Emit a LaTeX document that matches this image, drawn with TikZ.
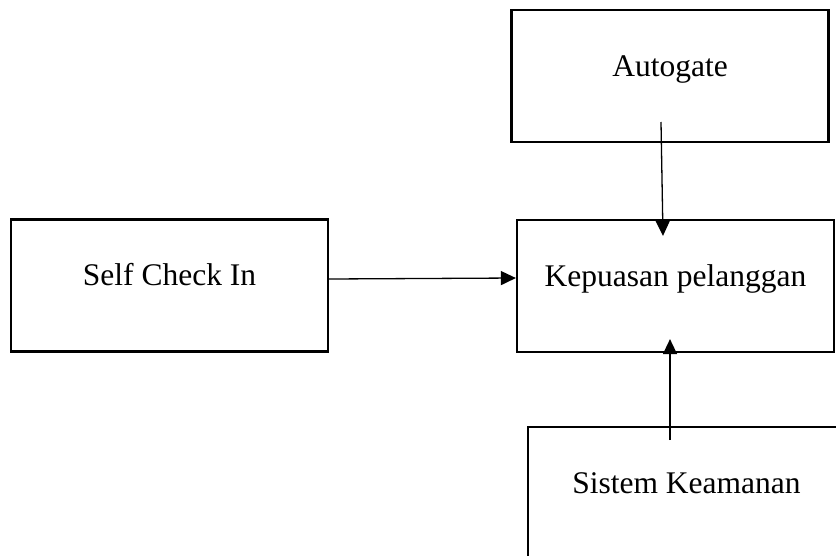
\documentclass[tikz,border=0pt]{standalone}
\usepackage{fontspec}
\setmainfont{Liberation Serif}
\usetikzlibrary{positioning,arrows.meta,calc}
\tikzset{
  varbox/.style={draw=black,line width=2.2pt,minimum width=317pt,minimum height=132pt,
    inner sep=0pt,text height=22pt,text depth=22pt,font=\fontsize{31.5}{38}\selectfont},
  varln/.style={-{Triangle[length=15pt,width=14pt]},line width=1.3pt},
}
\begin{document}
\begin{tikzpicture}[x=1pt,y=-1pt]
  \clip (0,0) rectangle (836,555);
  \fill[white] (0,0) rectangle (836,555);
  % variables
  \node[varbox] (auto) at (670,76)    {Autogate};
  \node[varbox] (self) at (169.5,285.5) {Self Check In};
  \node[varbox] (kep)  at (675.5,286) {Kepuasan pelanggan};
  \node[varbox] (sis)  at (686.5,493) {Sistem Keamanan};
  % influences
  \draw[varln] ([xshift=-9pt,yshift=-46pt]auto.center) -- ([xshift=-12.5pt,yshift=-17pt]kep.north);
  \draw[varln] ([yshift=6.5pt]self.east) -- ([yshift=8pt]kep.west);
  \draw[varln] ([xshift=-16.5pt,yshift=53pt]sis.center) -- ([xshift=-5.5pt,yshift=14pt]kep.south);
\end{tikzpicture}
\end{document}
